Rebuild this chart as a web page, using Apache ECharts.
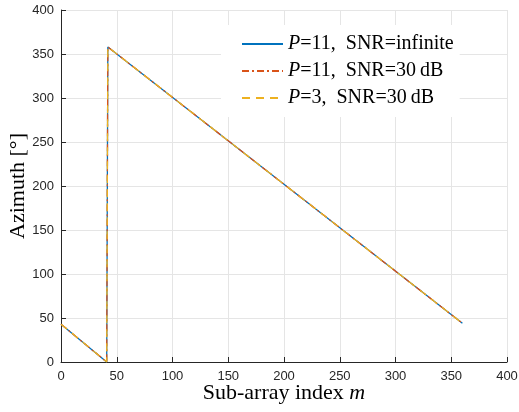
<!DOCTYPE html>
<html>
<head>
<meta charset="utf-8">
<script src="https://cdn.jsdelivr.net/npm/echarts@6/dist/echarts.min.js"></script>
<style>
  html, body { margin: 0; padding: 0; background: #fff; }
  #container { width: 519px; height: 412px; }
</style>
</head>
<body>
<div id="container"></div>
<script>
var chart = echarts.init(document.getElementById('container'));

// sub-array index m and estimated azimuth (deg)
var subIndex = [0, 41, 42, 360];
var azInf = [43, 0, 358, 44];      // P=11, SNR=infinite
var azP11 = [43, 0, 358, 44];      // P=11, SNR=30 dB
var azP3 = [43, 0, 358, 44];       // P=3, SNR=30 dB
var xTicks = [0, 50, 100, 150, 200, 250, 300, 350, 400];
var yTicks = [0, 50, 100, 150, 200, 250, 300, 350, 400];

var names = ['P=11,\u2002SNR=infinite', 'P=11,\u2002SNR=30\u2009dB', 'P=3,\u2002SNR=30\u2009dB'];

function pairs(ys) {
    return subIndex.map(function (m, i) { return [m, ys[i]]; });
}

var axis_color = '#262626';
var grid_color = '#e5e5e5';
var serif = '"Liberation Serif", "Times New Roman", serif';
var sans = '"Liberation Sans", Helvetica, Arial, sans-serif';

var option = {
    animation: false,
    grid: {
        left: 61,
        right: 12,
        top: 10,
        bottom: 50,
        outerBoundsMode: 'none'
    },
    legend: {
        orient: 'vertical',
        left: 221,
        top: 25,
        itemWidth: 41,
        itemHeight: 10,
        itemGap: 3,
        backgroundColor: '#fff',
        padding: [7, 6, 7, 20],
        itemStyle: { opacity: 0 },
        data: names,
        formatter: function (name) {
            return name.replace('P', '{i|P}');
        },
        textStyle: {
            fontFamily: serif,
            fontSize: 20,
            color: '#000',
            lineHeight: 24,
            rich: {
                i: { fontFamily: serif, fontStyle: 'italic', fontSize: 20, color: '#000' }
            }
        }
    },
    xAxis: {
        type: 'value',
        min: 0,
        max: 400,
        interval: 50,
        name: 'Sub-array index {i|m}',
        nameLocation: 'middle',
        nameGap: 20,
        nameMoveOverlap: false,
        nameTextStyle: {
            fontFamily: serif,
            fontSize: 22,
            color: '#000',
            rich: {
                i: { fontFamily: serif, fontStyle: 'italic', fontSize: 22, color: '#000' }
            }
        },
        axisLine: { lineStyle: { color: axis_color, width: 1 } },
        axisTick: { inside: true, length: 5, lineStyle: { color: axis_color } },
        axisLabel: {
            color: axis_color,
            fontFamily: sans,
            fontSize: 13,
            margin: 8,
            formatter: function (v) { return xTicks.indexOf(v) >= 0 ? String(v) : ''; }
        },
        splitLine: { show: true, lineStyle: { color: grid_color, width: 1 } }
    },
    yAxis: {
        type: 'value',
        min: 0,
        max: 400,
        interval: 50,
        name: 'Azimuth [\u00b0]',
        nameLocation: 'middle',
        nameGap: 32,
        nameMoveOverlap: false,
        nameTextStyle: {
            fontFamily: serif,
            fontSize: 22,
            color: '#000'
        },
        axisLine: { show: true, lineStyle: { color: axis_color, width: 1 } },
        axisTick: { show: true, inside: true, length: 5, lineStyle: { color: axis_color } },
        axisLabel: {
            color: axis_color,
            fontFamily: sans,
            fontSize: 13,
            margin: 7,
            formatter: function (v) { return yTicks.indexOf(v) >= 0 ? String(v) : ''; }
        },
        splitLine: { show: true, lineStyle: { color: grid_color, width: 1 } }
    },
    series: [
        {
            name: names[0],
            type: 'line',
            symbol: 'none',
            data: pairs(azInf),
            lineStyle: { color: '#0072BD', width: 1.3, type: 'solid' },
            itemStyle: { color: '#0072BD' }
        },
        {
            name: names[1],
            type: 'line',
            symbol: 'none',
            data: pairs(azP11),
            lineStyle: { color: '#D95319', width: 1.3, type: [7, 3, 2, 3] },
            itemStyle: { color: '#D95319' }
        },
        {
            name: names[2],
            type: 'line',
            symbol: 'none',
            data: pairs(azP3),
            lineStyle: { color: '#EDB120', width: 1.3, type: [8, 6] },
            itemStyle: { color: '#EDB120' }
        }
    ]
};
chart.setOption(option);
</script>
</body>
</html>
